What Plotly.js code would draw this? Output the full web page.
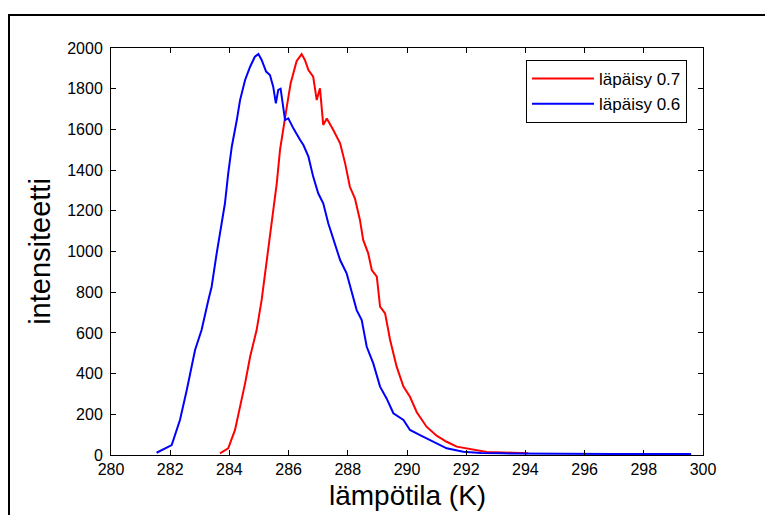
<!DOCTYPE html>
<html>
<head>
<meta charset="utf-8">
<script src="https://cdn.plot.ly/plotly-3.0.1.min.js"></script>
<style>html,body{margin:0;padding:0;background:#fff;}#chart{width:765px;height:515px;}</style>
</head>
<body>
<div id="chart"></div>
<script>
// lämpötila (K) / intensiteetti, läpäisy 0.7 (red)
var tempRed = [283.68,283.96,284.19,284.36,284.53,284.70,284.92,285.09,285.26,285.43,285.60,285.71,285.82,285.94,286.07,286.27,286.44,286.55,286.67,286.83,286.95,287.06,287.17,287.29,287.51,287.74,287.91,288.07,288.24,288.41,288.52,288.69,288.81,288.98,289.09,289.26,289.43,289.65,289.88,290.10,290.33,290.66,291.00,291.34,291.68,292.13,292.70,293.58,294.10];
var intRed  = [8,33,123,237,352,483,614,762,958,1139,1335,1499,1613,1712,1827,1935,1970,1941,1892,1859,1744,1802,1622,1654,1597,1532,1433,1318,1261,1155,1057,991,909,876,729,696,565,434,336,286,210,139,95,65,41,28,15,11,8];
// läpäisy 0.6 (blue)
var tempBlue = [281.54,282.05,282.33,282.56,282.84,283.06,283.29,283.40,283.57,283.74,283.85,283.96,284.08,284.25,284.36,284.53,284.70,284.86,284.98,285.09,285.24,285.37,285.48,285.57,285.65,285.73,285.82,285.88,285.99,286.16,286.39,286.50,286.67,286.83,287.00,287.17,287.34,287.51,287.74,287.96,288.13,288.30,288.47,288.64,288.86,289.09,289.31,289.54,289.88,290.10,290.44,290.55,290.89,291.34,291.90,292.50,293.20,294.04,295.00,297.00,299.60];
var intBlue  = [11,49,172,319,516,614,762,827,991,1155,1237,1384,1515,1646,1744,1843,1908,1957,1970,1941,1884,1867,1810,1728,1794,1800,1712,1646,1654,1605,1548,1523,1466,1368,1286,1237,1139,1057,958,893,795,712,663,532,450,336,278,205,172,123,98,90,65,33,16,10,8,7,5,5,5];
var seriesNames = ['läpäisy 0.7','läpäisy 0.6'];
var xTickVals = [280,282,284,286,288,290,292,294,296,298,300];
var yTickVals = [0,200,400,600,800,1000,1200,1400,1600,1800,2000];
var xTitle = 'lämpötila (K)';
var yTitle = 'intensiteetti';

var FONT = 'Liberation Sans, Arial, Helvetica, sans-serif';

var traces = [
  {x: tempRed, y: intRed, type: 'scatter', mode: 'lines', name: seriesNames[0],
   line: {color: 'rgb(255,0,0)', width: 2}},
  {x: tempBlue, y: intBlue, type: 'scatter', mode: 'lines', name: seriesNames[1],
   line: {color: 'rgb(0,0,255)', width: 2}}
];

var axisCommon = {
  ticks: 'inside', ticklen: 5, tickwidth: 1, tickcolor: '#000',
  showline: true, linecolor: '#000', linewidth: 1, mirror: 'ticks',
  showgrid: false, zeroline: false,
  tickfont: {family: FONT, size: 16, color: '#000'}
};

var layout = {
  width: 765, height: 515,
  paper_bgcolor: '#fff', plot_bgcolor: '#fff',
  margin: {l: 111, r: 62, t: 48, b: 60, pad: 0},
  showlegend: true,
  font: {family: FONT, color: '#000'},
  xaxis: Object.assign({}, axisCommon, {
    range: [280, 300], tickvals: xTickVals, ticktext: xTickVals.map(String)
  }),
  yaxis: Object.assign({}, axisCommon, {
    range: [0, 2000], tickvals: yTickVals, ticktext: yTickVals.map(String),
    ticklabelstandoff: 4,
    title: {text: yTitle, font: {family: FONT, size: 29, color: '#000'}, standoff: 8}
  }),
  annotations: [
    {text: xTitle, xref: 'paper', yref: 'paper', x: 0.5, y: -0.0983,
     xanchor: 'center', yanchor: 'middle', showarrow: false,
     font: {family: FONT, size: 28, color: '#000'}}
  ],
  legend: {
    x: 0.701, y: 0.9705, xanchor: 'left', yanchor: 'top',
    bgcolor: '#fff', bordercolor: '#000', borderwidth: 1,
    font: {family: FONT, size: 17, color: '#000'},
    traceorder: 'normal', itemwidth: 62
  },
  shapes: [
    {type: 'rect', xref: 'paper', yref: 'paper', x0: -0.1723, x1: 1.13, y0: -0.2, y1: 1.0811,
     line: {color: '#000', width: 2}, fillcolor: 'rgba(0,0,0,0)', layer: 'below'}
  ]
};

Plotly.newPlot('chart', traces, layout, {displayModeBar: false, staticPlot: true});
</script>
</body>
</html>
